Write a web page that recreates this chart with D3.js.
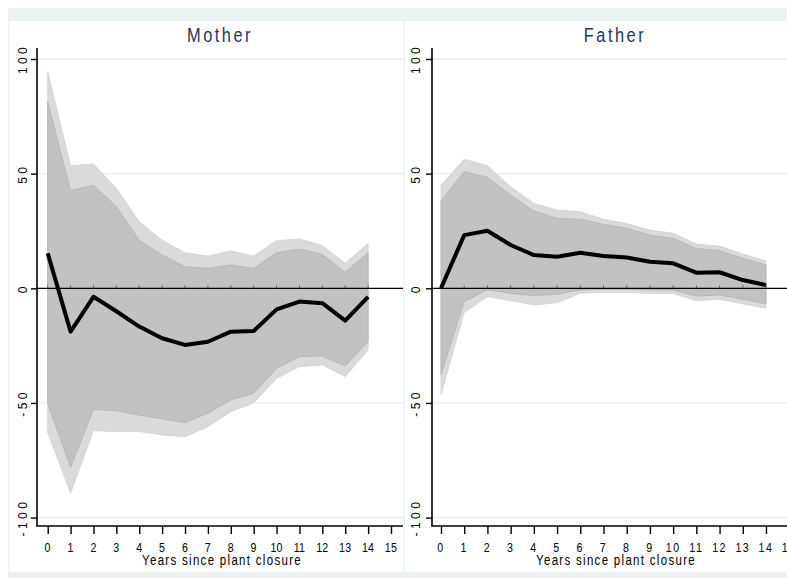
<!DOCTYPE html>
<html>
<head>
<meta charset="utf-8">
<script src="https://cdn.jsdelivr.net/npm/d3@7"></script>
<style>
  body { margin: 0; background: #ffffff; }
  svg { display: block; }
  text { font-family: "Liberation Sans", Arial, sans-serif; }
</style>
</head>
<body>
<svg id="chart" width="787" height="578"></svg>
<script>
// ---- data -------------------------------------------------------------
const years = [0, 1, 2, 3, 4, 5, 6, 7, 8, 9, 10, 11, 12, 13, 14];
const xTickValues = [0, 1, 2, 3, 4, 5, 6, 7, 8, 9, 10, 11, 12, 13, 14, 15];
const yTickValues = [-100, -50, 0, 50, 100];
const yGridValues = [-100, -50, 50, 100];

// Mother: point estimates, inner (90%) and outer (95%) confidence bands
const motherEst  = [15.3, -18.9, -3.7, -10.0, -16.7, -21.8, -24.7, -23.3, -18.9, -18.6, -9.2, -5.8, -6.5, -14.1, -3.7];
const motherHi90 = [81.4, 42.6, 45.0, 35.6, 21.0, 14.5, 9.4, 8.7, 10.2, 8.7, 15.5, 17.1, 14.8, 7.0, 15.5];
const motherLo90 = [-50.2, -78.1, -52.8, -53.4, -55.3, -56.9, -58.6, -54.5, -48.7, -45.8, -34.9, -29.8, -29.5, -33.9, -23.3];
const motherHi95 = [94.5, 53.5, 54.2, 43.6, 29.0, 21.0, 15.5, 14.1, 16.3, 14.1, 20.8, 21.5, 18.6, 10.9, 19.6];
const motherLo95 = [-62.9, -89.4, -62.1, -62.5, -62.5, -64.0, -64.7, -60.4, -53.8, -49.9, -39.3, -34.2, -33.4, -38.5, -26.9];

// Father: point estimates, inner (90%) and outer (95%) confidence bands
const fatherEst  = [0.0, 23.2, 25.1, 18.9, 14.5, 13.8, 15.5, 14.1, 13.4, 11.6, 10.9, 6.8, 7.0, 3.6, 1.4];
const fatherHi90 = [38.1, 50.9, 48.4, 40.7, 33.7, 30.5, 30.1, 27.9, 26.2, 23.2, 21.8, 17.4, 16.4, 13.1, 10.2];
const fatherLo90 = [-37.8, -5.8, -0.7, -2.2, -3.2, -2.6, -0.7, -0.4, -0.4, -0.7, -0.7, -3.4, -2.9, -4.8, -6.8];
const fatherHi95 = [45.0, 56.3, 53.5, 44.3, 37.1, 34.1, 33.4, 30.1, 28.3, 25.4, 24.0, 19.3, 18.4, 15.0, 11.9];
const fatherLo95 = [-46.5, -10.6, -3.7, -5.4, -7.3, -6.3, -2.2, -1.7, -1.7, -2.2, -2.2, -5.4, -4.8, -6.8, -8.7];

const panelTitles = ["Mother", "Father"];
const xAxisTitle = "Years since plant closure";

// ---- layout -----------------------------------------------------------
const svg = d3.select("#chart");
const BAND = "#eaf2f3";

svg.append("rect").attr("x", 8).attr("y", 8).attr("width", 779).attr("height", 570).attr("fill", BAND);
svg.append("rect").attr("x", 9).attr("y", 21).attr("width", 394.5).attr("height", 551).attr("fill", "#ffffff");
svg.append("rect").attr("x", 405).attr("y", 21).attr("width", 382).attr("height", 551).attr("fill", "#ffffff");

const y = d3.scaleLinear().domain([-100, 100]).range([517.6, 59]);
const axisTop = 48, axisBottom = 526;

const panels = [
  { title: panelTitles[0], est: motherEst, hi90: motherHi90, lo90: motherLo90, hi95: motherHi95, lo95: motherLo95,
    axisX: 37, xRange: [47.7, 391], rightEdge: 403, titleX: 220, axisTitleX: 222, yLabelX: 27.3, xLabelSpacing: 0.3 },
  { title: panelTitles[1], est: fatherEst, hi90: fatherHi90, lo90: fatherLo90, hi95: fatherHi95, lo95: fatherLo95,
    axisX: 432, xRange: [441, 789.2], rightEdge: 787, titleX: 615, axisTitleX: 616, yLabelX: 420, xLabelSpacing: 1.8 }
];

function addText(g, str, x, yPos, o) {
  return g.append("text")
    .attr("transform", `translate(${x},${yPos}) rotate(${o.rotate || 0}) scale(${o.sx || 1},1)`)
    .attr("text-anchor", "middle")
    .attr("fill", o.fill || "#000")
    .style("font-size", o.size + "px")
    .style("letter-spacing", (o.ls || 0) + "px")
    .text(str);
}

panels.forEach(p => {
  const g = svg.append("g");
  const x = d3.scaleLinear().domain([0, 15]).range(p.xRange);
  const rows = years.map((yr, i) => ({
    year: yr, est: p.est[i], hi90: p.hi90[i], lo90: p.lo90[i], hi95: p.hi95[i], lo95: p.lo95[i]
  }));

  // horizontal gridlines
  g.selectAll(".grid").data(yGridValues).enter().append("line")
    .attr("x1", p.axisX).attr("x2", p.rightEdge)
    .attr("y1", d => y(d)).attr("y2", d => y(d))
    .attr("stroke", "#e4eeee").attr("stroke-width", 1.3);

  // confidence bands
  const outer = d3.area().x(d => x(d.year)).y0(d => y(d.lo95)).y1(d => y(d.hi95));
  const inner = d3.area().x(d => x(d.year)).y0(d => y(d.lo90)).y1(d => y(d.hi90));
  g.append("path").datum(rows).attr("d", outer)
    .attr("fill", "#dadada").attr("stroke", "#d2d2d2").attr("stroke-width", 0.8);
  g.append("path").datum(rows).attr("d", inner)
    .attr("fill", "#c2c2c2").attr("stroke", "#b2b2b2").attr("stroke-width", 0.8);

  // zero reference line with small year marks
  g.append("line")
    .attr("x1", p.axisX).attr("x2", p.rightEdge)
    .attr("y1", y(0)).attr("y2", y(0))
    .attr("stroke", "#000").attr("stroke-width", 1.3);
  g.selectAll(".zmark").data(years).enter().append("line")
    .attr("x1", d => x(d)).attr("x2", d => x(d))
    .attr("y1", y(0)).attr("y2", y(0) - 3)
    .attr("stroke", "#555").attr("stroke-width", 0.9);

  // point estimates
  const line = d3.line().x(d => x(d.year)).y(d => y(d.est));
  g.append("path").datum(rows).attr("d", line)
    .attr("fill", "none").attr("stroke", "#000").attr("stroke-width", 4)
    .attr("stroke-linejoin", "round").attr("stroke-linecap", "butt");

  // y axis
  const yAxis = g.append("g").attr("transform", `translate(${p.axisX},0)`)
    .call(d3.axisLeft(y).tickValues(yTickValues).tickSize(6).tickSizeOuter(0).tickFormat(""));
  yAxis.select(".domain").remove();
  yAxis.selectAll(".tick line").attr("stroke", "#000").attr("stroke-width", 1.4);
  g.append("line").attr("x1", p.axisX).attr("x2", p.axisX).attr("y1", axisTop).attr("y2", axisBottom)
    .attr("stroke", "#000").attr("stroke-width", 1.6);
  yTickValues.forEach(v => addText(g, String(v), p.yLabelX, y(v), { rotate: -90, size: 12, ls: 3.4 }));

  // x axis
  const xAxis = g.append("g").attr("transform", `translate(0,${axisBottom})`)
    .call(d3.axisBottom(x).tickValues(xTickValues).tickSize(8).tickSizeOuter(0).tickFormat(""));
  xAxis.select(".domain").remove();
  xAxis.selectAll(".tick line").attr("stroke", "#000").attr("stroke-width", 1.4);
  g.append("line").attr("x1", p.axisX - 0.8).attr("x2", p.rightEdge).attr("y1", axisBottom).attr("y2", axisBottom)
    .attr("stroke", "#000").attr("stroke-width", 1.6);
  xTickValues.forEach(v => addText(g, String(v), x(v), 551.5, { size: 13, sx: 0.82, ls: p.xLabelSpacing }));

  // titles
  addText(g, xAxisTitle, p.axisTitleX, 564.5, { size: 14, sx: 0.82, ls: 1.6 });
  addText(g, p.title, p.titleX, 41.5, { size: 21, sx: 0.78, ls: 3.2, fill: "#27355a" });
});
</script>
</body>
</html>
